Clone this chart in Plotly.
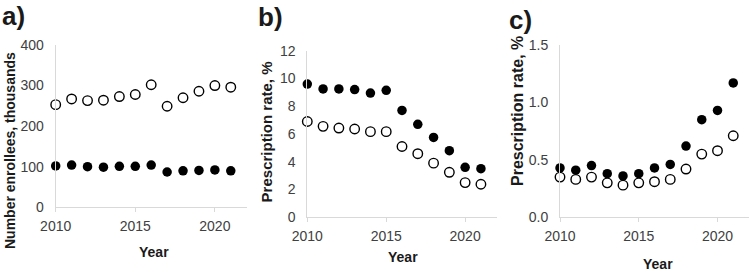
import plotly.graph_objects as go

years = [2010, 2011, 2012, 2013, 2014, 2015, 2016, 2017, 2018, 2019, 2020, 2021]

# Panel a: number of enrollees, thousands
a_open = [253, 267, 263, 264, 273, 278, 302, 249, 270, 286, 300, 296]
a_filled = [102, 104, 100, 99, 101, 101, 104, 87, 90, 91, 92, 90]

# Panel b: prescription rate, %
b_filled = [9.6, 9.25, 9.25, 9.2, 8.95, 9.15, 7.7, 6.7, 5.75, 4.8, 3.6, 3.5]
b_open = [6.9, 6.55, 6.43, 6.36, 6.17, 6.17, 5.1, 4.58, 3.9, 3.24, 2.5, 2.38]

# Panel c: prescription rate, %
c_filled = [0.43, 0.41, 0.45, 0.38, 0.36, 0.38, 0.43, 0.46, 0.62, 0.85, 0.93, 1.17]
c_open = [0.35, 0.33, 0.35, 0.30, 0.28, 0.30, 0.31, 0.33, 0.42, 0.55, 0.58, 0.71]

x_ticks = [2010, 2015, 2020]
a_yticks = [0, 100, 200, 300, 400]
b_yticks = [0, 2, 4, 6, 8, 10, 12]
c_yticks = [0.0, 0.5, 1.0, 1.5]
c_yticktext = ["0.0", "0.5", "1.0", "1.5"]

W, H = 750, 275
FONT = "Liberation Sans, Arial, sans-serif"
AXIS_COL = "#d9d9d9"
TICK_COL = "#404040"

def px_x(p):
    return p / W

def px_y(p):
    return 1 - p / H

fig = go.Figure()

panels = [
    dict(open=a_open, filled=a_filled, xd=(55.7, 246.7), yd=(207.3, 45.0), yr=[0, 400], yt=a_yticks, ytt=[str(v) for v in a_yticks]),
    dict(open=b_open, filled=b_filled, xd=(307.3, 496.7), yd=(217.3, 50.7), yr=[0, 12], yt=b_yticks, ytt=[str(v) for v in b_yticks]),
    dict(open=c_open, filled=c_filled, xd=(560.0, 749.0), yd=(217.3, 45.0), yr=[0, 1.5], yt=c_yticks, ytt=c_yticktext),
]

for i, p in enumerate(panels):
    n = "" if i == 0 else str(i + 1)
    xa, ya = "x" + n, "y" + n
    fig.add_trace(go.Scatter(x=years, y=p["filled"], mode="markers", xaxis=xa, yaxis=ya,
                             cliponaxis=False,
                             marker=dict(size=9.5, color="black", line=dict(width=0))))
    fig.add_trace(go.Scatter(x=years, y=p["open"], mode="markers", xaxis=xa, yaxis=ya,
                             cliponaxis=False,
                             marker=dict(size=9.5, color="white", line=dict(width=1.4, color="black"))))
    fig.layout["xaxis" + n] = dict(
        domain=[px_x(p["xd"][0]), px_x(p["xd"][1])], anchor=ya, range=[2010, 2022],
        tickvals=x_ticks, ticktext=[str(v) for v in x_ticks], showgrid=False, zeroline=False,
        showline=True, linecolor=AXIS_COL, linewidth=1, ticks="outside", ticklen=4,
        tickcolor=AXIS_COL, tickfont=dict(family=FONT, size=14, color=TICK_COL),
        ticklabelstandoff=2, automargin=False,
    )
    fig.layout["yaxis" + n] = dict(
        domain=[px_y(p["yd"][0]), px_y(p["yd"][1])], anchor=xa, range=p["yr"],
        tickvals=p["yt"], ticktext=p["ytt"], showgrid=False, zeroline=False,
        showline=True, linecolor=AXIS_COL, linewidth=1, ticks="",
        tickfont=dict(family=FONT, size=14, color=TICK_COL), ticklabelstandoff=8,
        automargin=False,
    )

annotations = []
# Panel labels
for txt, x, y in [("a)", 0, 16), ("b)", 256, 17), ("c)", 507, 20)]:
    annotations.append(dict(text="<b>" + txt + "</b>", x=px_x(x), y=px_y(y), xref="paper", yref="paper",
                            xanchor="left", yanchor="middle", showarrow=False,
                            font=dict(family=FONT, size=26, color="#1a1a1a")))
# X titles
for x, y in [(154, 252), (402.7, 256.7), (658, 264)]:
    annotations.append(dict(text="<b>Year</b>", x=px_x(x), y=px_y(y), xref="paper", yref="paper",
                            xanchor="center", yanchor="middle", showarrow=False,
                            font=dict(family=FONT, size=14, color="#1a1a1a")))
# Y titles
for txt, x, y, s in [("Number enrollees, thousands", 10, 151, 14),
                     ("Prescription rate, %", 266.7, 131.7, 15),
                     ("Prescription rate, %", 518, 111, 16)]:
    annotations.append(dict(text="<b>" + txt + "</b>", x=px_x(x), y=px_y(y), xref="paper", yref="paper",
                            xanchor="center", yanchor="middle", showarrow=False, textangle=-90,
                            font=dict(family=FONT, size=s, color="#1a1a1a")))

fig.update_layout(
    width=W, height=H, margin=dict(l=0, r=0, t=0, b=0, pad=0, autoexpand=False),
    paper_bgcolor="white", plot_bgcolor="white", showlegend=False,
    annotations=annotations,
)

fig.write_html("out.html", config={"displayModeBar": False},
               post_script="document.body.style.margin='0';document.body.style.overflow='hidden';")
